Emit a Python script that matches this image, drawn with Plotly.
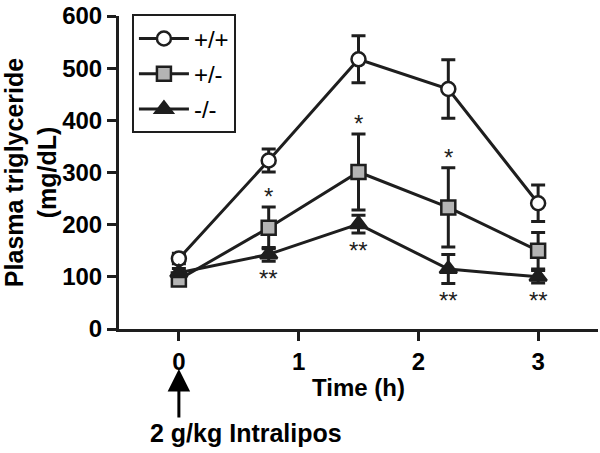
import plotly.graph_objects as go

time_h = [0, 0.75, 1.5, 2.25, 3]
wt_mean = [135, 323, 517, 460, 241]
wt_sem = [10, 22, 45, 56, 35]
het_mean = [95, 194, 301, 233, 150]
het_sem = [8, 40, 73, 76, 35]
ko_mean = [108, 143, 201, 115, 100]
ko_sem = [8, 13, 17, 28, 12]
het_star_idx = [1, 2, 3]
ko_star_idx = [1, 2, 3, 4]
y_ticks = [0, 100, 200, 300, 400, 500, 600]
x_ticks = [0, 1, 2, 3]

INK = "#1e1e1e"
FONT = "Liberation Sans, Arial, sans-serif"

fig = go.Figure()

def add_series(name, y, err, symbol, fill, size, group):
    fig.add_trace(go.Scatter(
        x=time_h, y=y, name=name, mode="lines+markers", legendgroup=group,
        line=dict(color=INK, width=3),
        marker=dict(symbol=symbol, size=size, color=fill, line=dict(color=INK, width=2.5)),
        error_y=dict(type="data", array=err, visible=True, color=INK, thickness=3, width=7),
    ))

add_series("+/+", wt_mean, wt_sem, "circle", "white", 14, "a")
add_series("+/-", het_mean, het_sem, "square", "#b4b4b4", 14, "b")
add_series("-/-", ko_mean, ko_sem, "triangle-up", INK, 15, "c")

annotations = []
for i in het_star_idx:
    annotations.append(dict(x=time_h[i], y=het_mean[i] + het_sem[i], text="*", showarrow=False,
                            yshift=10, font=dict(size=24, color=INK, family=FONT)))
for i in ko_star_idx:
    annotations.append(dict(x=time_h[i], y=ko_mean[i] - ko_sem[i], text="**", showarrow=False,
                            yshift=-17, font=dict(size=24, color=INK, family=FONT)))

annotations.append(dict(x=0, y=-0.128, xref="x", yref="paper", ax=0, ay=50, axref="pixel", ayref="pixel",
                        text="", showarrow=True, arrowhead=2, arrowsize=1.5, arrowwidth=3, arrowcolor="black"))
annotations.append(dict(x=-0.26, y=-0.282, xref="x", yref="paper", xanchor="left", yanchor="top",
                        text="<b>2 g/kg Intralipos</b>", showarrow=False,
                        font=dict(size=25, color="black", family=FONT)))

fig.update_layout(
    width=600, height=453,
    margin=dict(l=117, r=2, t=10, b=124),
    paper_bgcolor="white", plot_bgcolor="white",
    font=dict(family=FONT, color="black"),
    showlegend=True,
    legend=dict(x=0.027, y=1.005, xanchor="left", yanchor="top", bgcolor="white",
                bordercolor=INK, borderwidth=2, font=dict(size=24, family=FONT, color="black"),
                itemwidth=50, tracegroupgap=1, traceorder="grouped"),
    annotations=annotations,
    xaxis=dict(range=[-0.5, 3.5], tickvals=x_ticks, ticktext=["<b>%d</b>" % v for v in x_ticks],
               showgrid=False, zeroline=False, showline=True, linecolor=INK, linewidth=3,
               ticks="outside", ticklen=9, tickwidth=3, tickcolor=INK, ticklabeloverflow="allow",
               tickfont=dict(size=24, family=FONT, color="black"),
               title=dict(text="<b>Time (h)</b>", font=dict(size=24, family=FONT, color="black"), standoff=6)),
    yaxis=dict(range=[0, 600], tickvals=y_ticks, ticktext=["<b>%d</b>" % v for v in y_ticks],
               showgrid=False, zeroline=False, showline=True, linecolor=INK, linewidth=3,
               ticks="outside", ticklen=9, tickwidth=3, tickcolor=INK, ticklabeloverflow="allow",
               tickfont=dict(size=24, family=FONT, color="black"),
               title=dict(text="<b>Plasma triglyceride<br>(mg/dL)</b>", font=dict(size=25, family=FONT, color="black"), standoff=10)),
)

fig.write_html("out.html", config={"displayModeBar": False},
               post_script="document.body.style.margin='0px';document.body.style.overflow='hidden';")
